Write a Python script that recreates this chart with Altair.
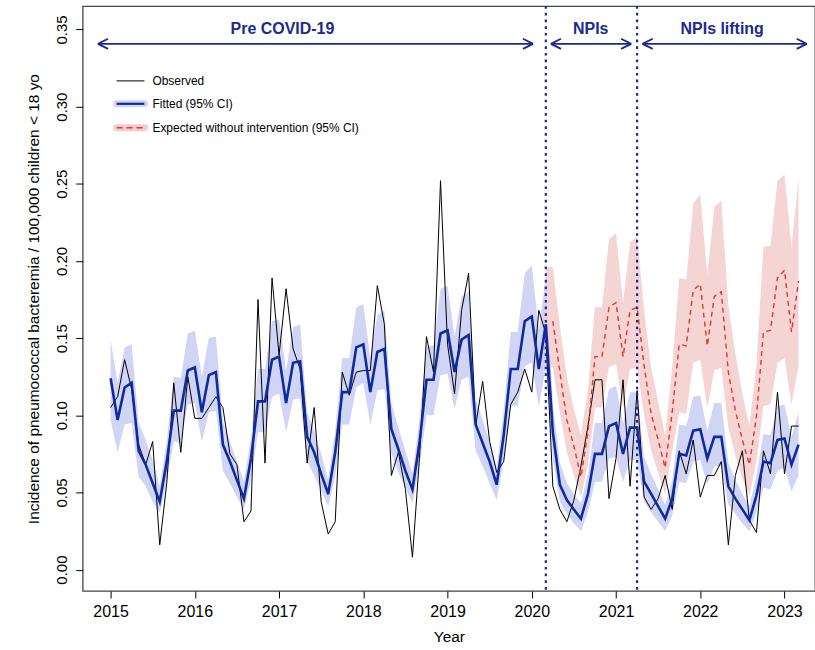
import altair as alt
import pandas as pd

# ---- data (monthly, Jan 2015 .. Mar 2023) ----
observed = [0.105, 0.112, 0.136, 0.117, 0.081, 0.068, 0.083, 0.016, 0.056, 0.121, 0.076, 0.125,
            0.098, 0.098, 0.105, 0.112, 0.105, 0.075, 0.068, 0.031, 0.038, 0.175, 0.069, 0.189,
            0.139, 0.182, 0.143, 0.130, 0.069, 0.105, 0.044, 0.023, 0.031, 0.128, 0.113, 0.128,
            0.129, 0.129, 0.184, 0.159, 0.061, 0.076, 0.052, 0.008, 0.072, 0.151, 0.128, 0.252,
            0.146, 0.114, 0.168, 0.192, 0.093, 0.122, 0.083, 0.063, 0.070, 0.107, 0.115, 0.130,
            0.115, 0.168, 0.153, 0.054, 0.039, 0.031, 0.045, 0.067, 0.093, 0.123, 0.123, 0.046,
            0.072, 0.123, 0.054, 0.116, 0.047, 0.039, 0.046, 0.061, 0.039, 0.077, 0.062, 0.084,
            0.047, 0.061, 0.061, 0.070, 0.016, 0.061, 0.077, 0.032, 0.024, 0.077, 0.062, 0.115,
            0.062, 0.093, 0.093]
fitted = [0.124, 0.097, 0.118, 0.121, 0.077, 0.068, 0.056, 0.044, 0.070, 0.103, 0.103, 0.129,
          0.131, 0.102, 0.126, 0.128, 0.081, 0.070, 0.058, 0.046, 0.072, 0.109, 0.109, 0.136,
          0.138, 0.108, 0.134, 0.135, 0.086, 0.076, 0.062, 0.049, 0.076, 0.115, 0.115, 0.144,
          0.146, 0.115, 0.141, 0.143, 0.091, 0.078, 0.064, 0.052, 0.082, 0.123, 0.123, 0.153,
          0.155, 0.128, 0.149, 0.152, 0.094, 0.082, 0.070, 0.055, 0.087, 0.130, 0.130, 0.161,
          0.164, 0.130, 0.159, 0.089, 0.055, 0.045, 0.039, 0.033, 0.049, 0.075, 0.075, 0.093,
          0.095, 0.075, 0.092, 0.092, 0.057, 0.049, 0.041, 0.033, 0.046, 0.075, 0.074, 0.090,
          0.091, 0.072, 0.086, 0.086, 0.054, 0.046, 0.039, 0.032, 0.048, 0.070, 0.069, 0.084,
          0.085, 0.068, 0.081]
fit_lo = [0.097, 0.076, 0.094, 0.095, 0.060, 0.054, 0.044, 0.037, 0.057, 0.083, 0.082, 0.107,
          0.108, 0.083, 0.102, 0.103, 0.064, 0.056, 0.047, 0.039, 0.058, 0.089, 0.089, 0.112,
          0.114, 0.089, 0.110, 0.111, 0.070, 0.061, 0.051, 0.041, 0.061, 0.094, 0.094, 0.118,
          0.121, 0.094, 0.116, 0.117, 0.075, 0.063, 0.053, 0.043, 0.067, 0.100, 0.100, 0.126,
          0.127, 0.104, 0.123, 0.125, 0.077, 0.067, 0.056, 0.045, 0.071, 0.106, 0.106, 0.132,
          0.134, 0.106, 0.131, 0.072, 0.044, 0.036, 0.030, 0.025, 0.037, 0.057, 0.057, 0.072,
          0.073, 0.057, 0.071, 0.071, 0.044, 0.037, 0.031, 0.025, 0.035, 0.057, 0.056, 0.070,
          0.071, 0.055, 0.067, 0.067, 0.042, 0.036, 0.030, 0.025, 0.037, 0.053, 0.052, 0.064,
          0.066, 0.051, 0.061]
fit_hi = [0.149, 0.121, 0.144, 0.146, 0.095, 0.084, 0.071, 0.054, 0.083, 0.125, 0.124, 0.153,
          0.155, 0.125, 0.150, 0.151, 0.096, 0.083, 0.070, 0.057, 0.085, 0.130, 0.130, 0.161,
          0.162, 0.129, 0.157, 0.159, 0.102, 0.090, 0.075, 0.058, 0.090, 0.137, 0.137, 0.170,
          0.172, 0.137, 0.165, 0.168, 0.108, 0.092, 0.077, 0.062, 0.097, 0.145, 0.145, 0.182,
          0.184, 0.151, 0.177, 0.180, 0.111, 0.097, 0.083, 0.066, 0.103, 0.154, 0.154, 0.192,
          0.197, 0.155, 0.190, 0.108, 0.069, 0.056, 0.049, 0.043, 0.062, 0.095, 0.095, 0.117,
          0.119, 0.095, 0.115, 0.115, 0.073, 0.062, 0.052, 0.042, 0.058, 0.094, 0.093, 0.112,
          0.113, 0.090, 0.108, 0.108, 0.069, 0.058, 0.049, 0.041, 0.061, 0.088, 0.087, 0.106,
          0.107, 0.086, 0.102]
# counterfactual (starts March 2020 = month index 62)
exp_start = 62
expected = [None, 0.161, 0.128, 0.097, 0.080, 0.060, 0.089, 0.138, 0.138, 0.170, 0.173, 0.138,
            0.168, 0.170, 0.132, 0.101, 0.084, 0.066, 0.102, 0.146, 0.145, 0.181, 0.185, 0.145,
            0.177, 0.180, 0.128, 0.103, 0.084, 0.068, 0.099, 0.154, 0.155, 0.189, 0.194, 0.154,
            0.187]
exp_lo = [0.131, 0.131, 0.102, 0.076, 0.061, 0.047, 0.068, 0.105, 0.105, 0.131, 0.133, 0.105,
          0.130, 0.131, 0.100, 0.077, 0.063, 0.049, 0.077, 0.102, 0.101, 0.134, 0.136, 0.105,
          0.129, 0.131, 0.092, 0.074, 0.059, 0.048, 0.070, 0.106, 0.107, 0.134, 0.137, 0.107,
          0.132]
exp_hi = [0.196, 0.196, 0.158, 0.125, 0.104, 0.087, 0.117, 0.170, 0.170, 0.214, 0.218, 0.173,
          0.212, 0.216, 0.168, 0.131, 0.109, 0.087, 0.131, 0.189, 0.188, 0.237, 0.243, 0.191,
          0.235, 0.239, 0.171, 0.140, 0.114, 0.093, 0.133, 0.209, 0.210, 0.252, 0.256, 0.209,
          0.253]

interventions = [2020 + 2 / 12, 2021 + 3 / 12]
period_labels = ["Pre COVID-19", "NPIs", "NPIs lifting"]
period_label_x = [2017.04, 2020.70, 2022.26]
period_start = [2014.85, 2020.227, 2021.315]
period_end = [2020.015, 2021.18, 2023.265]
year_ticks = list(range(2015, 2024))
y_ticks = [0.0, 0.05, 0.10, 0.15, 0.20, 0.25, 0.30, 0.35]

NAVY = "#1b2a8e"
BLUE = "#0f2a9c"
BLUE_BAND = "#d0d4f5"
RED = "#e8332a"
RED_BAND = "#f3cdcd"

n = len(fitted)
t = [2015 + i / 12 for i in range(n)]
main = pd.DataFrame({"t": t, "obs": observed, "fit": fitted, "lo": fit_lo, "hi": fit_hi})
cf = pd.DataFrame({"t": t[exp_start:], "exp": expected, "lo": exp_lo, "hi": exp_hi})
cf_line = cf.dropna(subset=["exp"])

xscale = alt.Scale(domain=[2014.669, 2023.362], nice=False, zero=False)
yscale = alt.Scale(domain=[-0.01388, 0.3651], nice=False, zero=False)

X = alt.X("t:Q", scale=xscale,
          axis=alt.Axis(values=year_ticks, format="d", title="Year", titlePadding=10,
                        labelFontSize=16, labelPadding=6))
Y_ax = alt.Axis(values=y_ticks, format=".2f", labelAngle=270, labelAlign="center",
                labelBaseline="bottom", labelPadding=6, labelFontSize=15,
                title="Incidence of pneumococcal bacteremia / 100,000 children < 18 yo",
                titlePadding=13)

base = alt.Chart(main)
blue_band = base.mark_area(color=BLUE_BAND, opacity=1).encode(
    x=X, y=alt.Y("lo:Q", scale=yscale, axis=Y_ax), y2="hi:Q")
red_band = alt.Chart(cf).mark_area(color=RED_BAND, opacity=0.85).encode(
    x="t:Q", y="lo:Q", y2="hi:Q")
obs_line = base.mark_line(color="black", strokeWidth=1).encode(x="t:Q", y="obs:Q")
fit_line = base.mark_line(color=BLUE, strokeWidth=2.6).encode(x="t:Q", y="fit:Q")
exp_line = alt.Chart(cf_line).mark_line(color=RED, strokeWidth=1.4, strokeDash=[5, 4]).encode(
    x="t:Q", y="exp:Q")

vlines = alt.Chart(pd.DataFrame({"t": interventions})).mark_rule(
    color=NAVY, strokeWidth=2.2, strokeDash=[2.7, 4]).encode(x="t:Q")

ARROW_Y = 0.3407
HEAD_DX = 0.12
HEAD_DY = 0.0033
arr = pd.DataFrame({"x1": period_start, "x2": period_end, "y": [ARROW_Y] * 3})
shafts = alt.Chart(arr).mark_rule(color=NAVY, strokeWidth=1.8).encode(
    x="x1:Q", x2="x2:Q", y="y:Q")
heads_rows = []
for s, e in zip(period_start, period_end):
    for sign in (1, -1):
        heads_rows.append({"xa": s, "xb": s + HEAD_DX, "ya": ARROW_Y, "yb": ARROW_Y + sign * HEAD_DY})
        heads_rows.append({"xa": e, "xb": e - HEAD_DX, "ya": ARROW_Y, "yb": ARROW_Y + sign * HEAD_DY})
heads = alt.Chart(pd.DataFrame(heads_rows)).mark_rule(color=NAVY, strokeWidth=1.8).encode(
    x="xa:Q", x2="xb:Q", y="ya:Q", y2="yb:Q")
labels = alt.Chart(pd.DataFrame({"x": period_label_x, "y": [0.3505] * 3, "txt": period_labels})).mark_text(
    color=NAVY, fontSize=16, fontWeight="bold", font="Liberation Sans", baseline="middle").encode(
    x="x:Q", y="y:Q", text="txt:N")

# ---- legend (manual) ----
one = pd.DataFrame({"a": [0]})
LX1, LX2, LTX = 34, 62, 70
rows_y = [75, 98, 122]
leg = [
    alt.Chart(one).mark_rule(color="black", strokeWidth=1).encode(
        x=alt.value(LX1), x2=alt.value(LX2), y=alt.value(rows_y[0])),
    alt.Chart(one).mark_rule(color=BLUE_BAND, strokeWidth=7, strokeCap="round").encode(
        x=alt.value(LX1), x2=alt.value(LX2), y=alt.value(rows_y[1])),
    alt.Chart(one).mark_rule(color=BLUE, strokeWidth=2.2).encode(
        x=alt.value(LX1), x2=alt.value(LX2), y=alt.value(rows_y[1])),
    alt.Chart(one).mark_rule(color=RED_BAND, strokeWidth=7, strokeCap="round").encode(
        x=alt.value(LX1), x2=alt.value(LX2), y=alt.value(rows_y[2])),
    alt.Chart(one).mark_rule(color=RED, strokeWidth=1.4, strokeDash=[6, 4]).encode(
        x=alt.value(LX1), x2=alt.value(LX2), y=alt.value(rows_y[2])),
]
for txt, yy in zip(["Observed", "Fitted (95% CI)", "Expected without intervention (95% CI)"], rows_y):
    leg.append(alt.Chart(one).mark_text(text=txt, align="left", baseline="middle", fontSize=12,
                                        font="Liberation Sans", color="black").encode(
        x=alt.value(LTX), y=alt.value(yy)))

chart = alt.layer(blue_band, red_band, obs_line, fit_line, exp_line, vlines,
                  shafts, heads, labels, *leg).properties(
    width=735, height=587,
    padding={"left": 83, "top": 5, "right": 0, "bottom": 58},
    autosize=alt.AutoSizeParams(type="none"),
).configure_view(stroke="#444444", strokeWidth=1.3).configure_axis(
    domain=False, grid=False, tickColor="black", tickSize=7, tickWidth=1,
    labelFont="Liberation Sans", labelColor="black",
    titleFont="Liberation Sans", titleFontSize=15.5, titleFontWeight="normal", titleColor="black",
)

chart.save("out.html", embed_options={"renderer": "svg", "actions": False})
